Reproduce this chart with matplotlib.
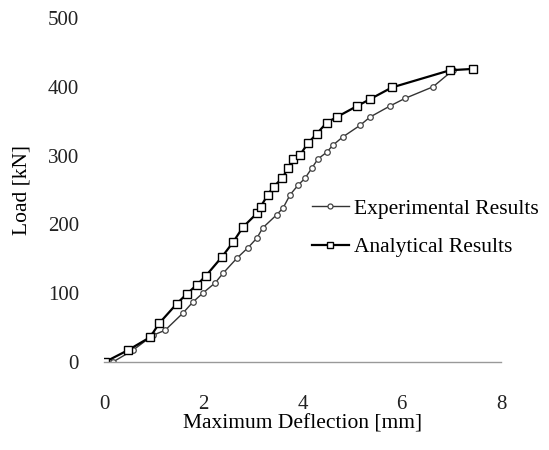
import matplotlib
matplotlib.use('Agg')
import matplotlib.pyplot as plt

# deflection [mm] / load [kN]
exp_x = [0.18, 0.58, 0.99, 1.23, 1.59, 1.79, 1.99, 2.24, 2.40, 2.68, 2.90, 3.08, 3.20,
         3.48, 3.61, 3.75, 3.91, 4.05, 4.19, 4.31, 4.49, 4.61, 4.81, 5.16, 5.36, 5.76,
         6.06, 6.63, 7.03]
exp_y = [0, 17, 39, 46, 71, 87, 100, 115, 129, 151, 166, 180, 195,
         214, 224, 243, 257, 267, 282, 295, 305, 315, 327, 344, 356, 372,
         383, 400, 424]

ana_x = [0.02, 0.48, 0.93, 1.11, 1.47, 1.67, 1.87, 2.05, 2.38, 2.60, 2.80, 3.08, 3.16,
         3.30, 3.42, 3.59, 3.71, 3.81, 3.95, 4.11, 4.29, 4.49, 4.69, 5.10, 5.36, 5.80,
         6.97, 7.43]
ana_y = [0, 17, 36, 56, 85, 99, 112, 125, 153, 174, 196, 216, 226,
         243, 255, 267, 282, 295, 301, 318, 332, 348, 356, 372, 382, 399,
         424, 426]

x_ticks = [0, 2, 4, 6, 8]
y_ticks = [0, 100, 200, 300, 400, 500]

plt.rcParams['font.family'] = ['Liberation Serif', 'DejaVu Serif']

fig = plt.figure(figsize=(5.49, 4.5), dpi=100)
ax = fig.add_axes([0.1894, 0.1956, 0.7232, 0.7644])

ax.plot(exp_x, exp_y, '-', color='#333333', lw=1.0, marker='o', ms=4,
        mfc='white', mec='#444444', mew=0.9, label='Experimental Results')
ax.plot(ana_x, ana_y, '-', color='black', lw=1.6, marker='s', ms=5.5,
        mfc='white', mec='black', mew=1.0, label='Analytical Results')

ax.set_xlim(0, 8)
ax.set_ylim(0, 500)
ax.set_xticks(x_ticks)
ax.set_yticks(y_ticks)
ax.tick_params(axis='both', length=0, labelsize=15, colors='#222222')
ax.tick_params(axis='x', pad=24)
ax.tick_params(axis='y', pad=18)

for s in ['top', 'right', 'left']:
    ax.spines[s].set_visible(False)
ax.spines['bottom'].set_color('#999999')
ax.spines['bottom'].set_linewidth(1.0)

ax.set_xlabel('Maximum Deflection [mm]', fontsize=15.5, labelpad=0)
ax.set_ylabel('Load [kN]', fontsize=15.5, labelpad=12)

ax.legend(loc='center left', bbox_to_anchor=(0.524, 0.39), frameon=False,
          fontsize=15.5, borderpad=0, borderaxespad=0, handlelength=1.7,
          handletextpad=0.25, labelspacing=0.85, markerscale=0.9)

fig.savefig('out.png', dpi=100)
